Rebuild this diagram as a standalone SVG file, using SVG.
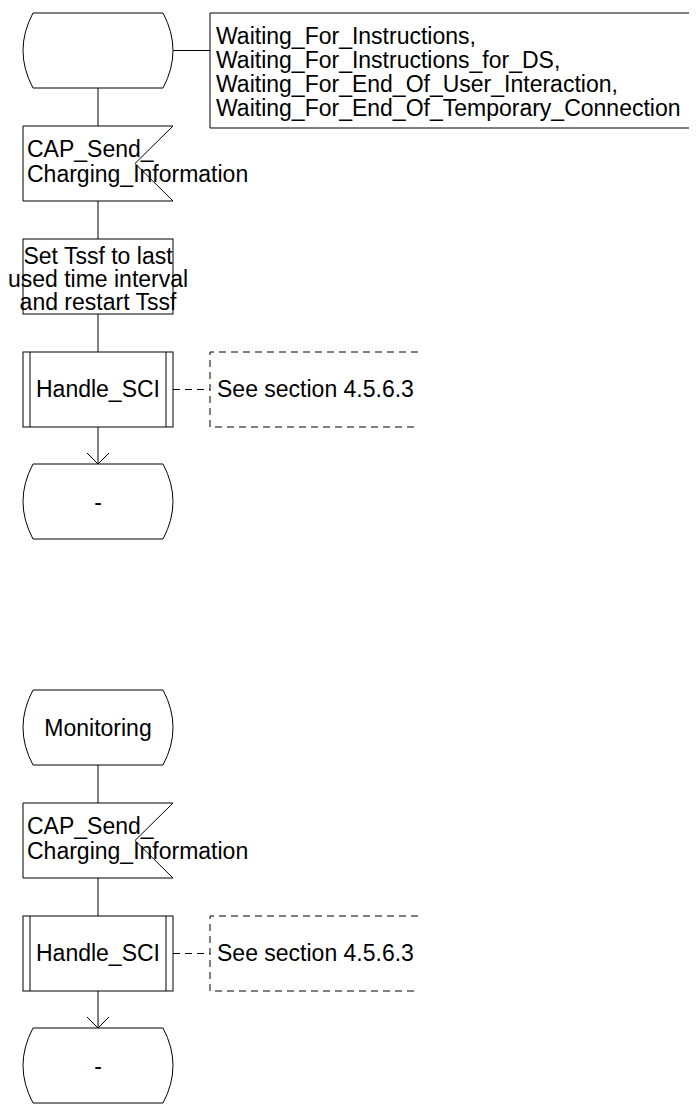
<svg xmlns="http://www.w3.org/2000/svg" width="699" height="1104" viewBox="0 0 699 1104">
<style>
.s{fill:#fff;stroke:#000;stroke-width:1}
.c{fill:none;stroke:#000;stroke-width:1}
.d{fill:none;stroke:#000;stroke-width:1;stroke-dasharray:7,5}
text{font-family:"Liberation Sans",Arial,sans-serif;font-size:23px;fill:#000}
.m{text-anchor:middle}
</style>
<rect width="699" height="1104" fill="#fff"/>
<g id="connectors">
<line class="c" x1="173" y1="50.5" x2="210" y2="50.5"/>
<line class="c" x1="98" y1="88" x2="98" y2="126"/>
<line class="c" x1="98" y1="201" x2="98" y2="239"/>
<line class="c" x1="98" y1="314" x2="98" y2="352"/>
<line class="c" x1="98" y1="427" x2="98" y2="464"/>
<polyline class="c" points="87,453 98,464 109,453"/>
<line class="d" x1="173" y1="389.5" x2="210" y2="389.5"/>
<line class="c" x1="98" y1="765" x2="98" y2="803"/>
<line class="c" x1="98" y1="878" x2="98" y2="916"/>
<line class="c" x1="98" y1="991" x2="98" y2="1028"/>
<polyline class="c" points="87,1017 98,1028 109,1017"/>
<line class="d" x1="173" y1="953.5" x2="210" y2="953.5"/>
</g>
<g id="state1">
<path class="s" d="M33,13 L163,13 Q183,50.5 163,88 L33,88 Q13,50.5 33,13 Z"/>
</g>
<g id="statelist">
<path class="c" d="M689,13 L210,13 L210,128 L689,128"/>
<text x="216" y="44">Waiting_For_Instructions,</text>
<text x="216" y="68">Waiting_For_Instructions_for_DS,</text>
<text x="216" y="92">Waiting_For_End_Of_User_Interaction,</text>
<text x="216" y="116">Waiting_For_End_Of_Temporary_Connection</text>
</g>
<g id="input1">
<path class="s" d="M23,126 L173,126 L135,163.5 L173,201 L23,201 Z"/>
<text x="27" y="157">CAP_Send_</text>
<text x="27" y="182">Charging_Information</text>
</g>
<g id="task1">
<rect class="s" x="23" y="239" width="150" height="75"/>
<text class="m" x="98" y="264">Set Tssf to last</text>
<text class="m" x="98" y="287">used time interval</text>
<text class="m" x="98" y="310">and restart Tssf</text>
</g>
<g id="proc1">
<rect class="s" x="23" y="352" width="150" height="75"/>
<line class="c" x1="30" y1="352" x2="30" y2="427"/>
<line class="c" x1="166" y1="352" x2="166" y2="427"/>
<text class="m" x="98" y="397">Handle_SCI</text>
</g>
<g id="comment1">
<path class="d" d="M418,352 L210,352 L210,427 L418,427"/>
<text x="217" y="397">See section 4.5.6.3</text>
</g>
<g id="state2">
<path class="s" d="M33,464 L163,464 Q183,501.5 163,539 L33,539 Q13,501.5 33,464 Z"/>
<text class="m" x="98" y="510">-</text>
</g>
<g id="state3">
<path class="s" d="M33,690 L163,690 Q183,727.5 163,765 L33,765 Q13,727.5 33,690 Z"/>
<text class="m" x="98" y="736">Monitoring</text>
</g>
<g id="input2">
<path class="s" d="M23,803 L173,803 L135,840.5 L173,878 L23,878 Z"/>
<text x="27" y="834">CAP_Send_</text>
<text x="27" y="859">Charging_Information</text>
</g>
<g id="proc2">
<rect class="s" x="23" y="916" width="150" height="75"/>
<line class="c" x1="30" y1="916" x2="30" y2="991"/>
<line class="c" x1="166" y1="916" x2="166" y2="991"/>
<text class="m" x="98" y="961">Handle_SCI</text>
</g>
<g id="comment2">
<path class="d" d="M418,916 L210,916 L210,991 L418,991"/>
<text x="217" y="961">See section 4.5.6.3</text>
</g>
<g id="state4">
<path class="s" d="M33,1028 L163,1028 Q183,1065.5 163,1103 L33,1103 Q13,1065.5 33,1028 Z"/>
<text class="m" x="98" y="1074">-</text>
</g>
</svg>
